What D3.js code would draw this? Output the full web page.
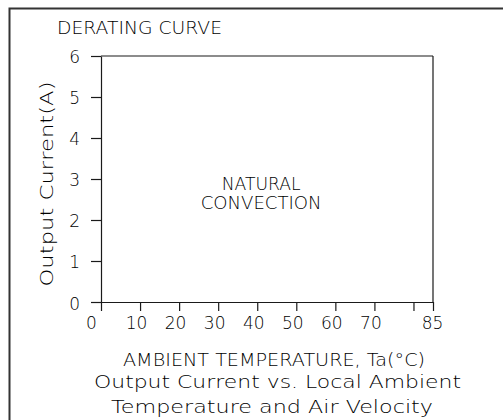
<!DOCTYPE html>
<html>
<head>
<meta charset="utf-8">
<script src="https://cdn.jsdelivr.net/npm/d3@7"></script>
<style>
  html, body { margin: 0; padding: 0; background: #fff; }
  svg text { font-family: "DejaVu Sans", sans-serif; font-weight: 200; fill: #000; }
</style>
</head>
<body>
<svg id="chart" width="503" height="420"></svg>
<script>
// ---- data ----
const xDomain = [0, 85];
const yDomain = [0, 6];
const xTickValues = [0, 10, 20, 30, 40, 50, 60, 70, 80, 85];
const xTickLabels = ["0", "10", "20", "30", "40", "50", "60", "70", "", "85"];
const yTickValues = [0, 1, 2, 3, 4, 5, 6];
const yTickLabels = ["0", "1", "2", "3", "4", "5", "6"];
const chartTitle = "DERATING CURVE";
const xTitle = "AMBIENT TEMPERATURE, Ta(°C)";
const yTitle = "Output Current(A)";
const captionLines = ["Output Current vs. Local Ambient", "Temperature and Air Velocity"];
const noteLines = ["NATURAL", "CONVECTION"];
const noteAt = [41, 2.6];

// ---- drawing ----
const svg = d3.select("#chart");
const stroke = "#1a1a1a";

const x = d3.scaleLinear().domain(xDomain).range([101, 433]);
const y = d3.scaleLinear().domain(yDomain).range([302, 56]);

// outer frame (left and top edges)
svg.append("path")
  .attr("d", "M9.5,420 L9.5,8.5 L503,8.5")
  .attr("fill", "none").attr("stroke", "#333").attr("stroke-width", 2);

// plot frame top and right
svg.append("line").attr("x1", x(0)).attr("x2", x(85)).attr("y1", y(6)).attr("y2", y(6))
  .attr("stroke", stroke).attr("stroke-width", 1.2);
svg.append("line").attr("x1", x(85)).attr("x2", x(85)).attr("y1", y(6)).attr("y2", y(0))
  .attr("stroke", stroke).attr("stroke-width", 1.2);

// x axis
const xAxis = d3.axisBottom(x)
  .tickValues(xTickValues)
  .tickFormat((d, i) => xTickLabels[i])
  .tickSize(9).tickSizeOuter(0).tickPadding(6);
const gx = svg.append("g").attr("transform", `translate(0,${y(0)})`).call(xAxis);
gx.attr("font-family", null).attr("font-size", null);
gx.selectAll("path, line").attr("stroke", stroke).attr("stroke-width", 1.2);
gx.selectAll("text").attr("font-size", 17).attr("fill", "#000")
  .attr("dx", d => d === 0 ? -10 : (d === 85 ? -1 : -4))
  .attr("dy", "0.72em");

// y axis
const yAxis = d3.axisLeft(y)
  .tickValues(yTickValues)
  .tickFormat((d, i) => yTickLabels[i])
  .tickSize(10).tickSizeOuter(0).tickPadding(11);
const gy = svg.append("g").attr("transform", `translate(${x(0)},0)`).call(yAxis);
gy.attr("font-family", null).attr("font-size", null);
gy.selectAll("path, line").attr("stroke", stroke).attr("stroke-width", 1.2);
gy.selectAll("text").attr("font-size", 17).attr("fill", "#000")
  .attr("dy", d => d === 0 ? "0.45em" : "0.36em");

// chart title
svg.append("text").attr("x", 57).attr("y", 34).attr("font-size", 17)
  .attr("textLength", 165).attr("lengthAdjust", "spacingAndGlyphs").text(chartTitle);

// note in plot
svg.append("text").attr("x", x(noteAt[0])).attr("y", 190).attr("text-anchor", "middle")
  .attr("font-size", 17).attr("textLength", 79).attr("lengthAdjust", "spacingAndGlyphs").text(noteLines[0]);
svg.append("text").attr("x", x(noteAt[0])).attr("y", 209).attr("text-anchor", "middle")
  .attr("font-size", 17).attr("textLength", 121).attr("lengthAdjust", "spacingAndGlyphs").text(noteLines[1]);

// y title
svg.append("text").attr("transform", "translate(53,184) rotate(-90)").attr("text-anchor", "middle")
  .attr("font-size", 17).attr("textLength", 205).attr("lengthAdjust", "spacingAndGlyphs").text(yTitle);

// x title and captions
svg.append("text").attr("x", 274).attr("y", 366).attr("text-anchor", "middle")
  .attr("font-size", 17).attr("textLength", 302).attr("lengthAdjust", "spacingAndGlyphs").text(xTitle);
svg.append("text").attr("x", 277.5).attr("y", 388).attr("text-anchor", "middle")
  .attr("font-size", 17).attr("textLength", 367).attr("lengthAdjust", "spacingAndGlyphs").text(captionLines[0]);
svg.append("text").attr("x", 272).attr("y", 413).attr("text-anchor", "middle")
  .attr("font-size", 17).attr("textLength", 322).attr("lengthAdjust", "spacingAndGlyphs").text(captionLines[1]);
</script>
</body>
</html>
